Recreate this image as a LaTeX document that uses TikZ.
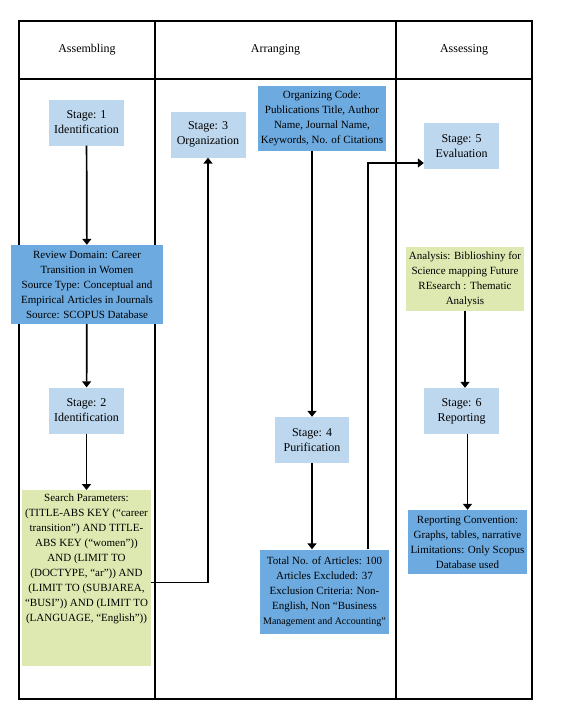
\documentclass[tikz,border=0pt]{standalone}
\usepackage{fontspec}
\setmainfont{Liberation Serif}
\usetikzlibrary{arrows.meta}

\definecolor{stageblue}{RGB}{189,215,238}
\definecolor{boxblue}{RGB}{108,170,224}
\definecolor{boxgreen}{RGB}{222,233,178}

\begin{document}
\begin{tikzpicture}[x=1pt,y=-1pt,
    stagebox/.style={fill=stageblue,align=center,minimum width=75pt,minimum height=46pt,
      inner sep=2pt,font=\fontsize{12}{15}\selectfont},
    infobox/.style={fill=boxblue,align=center,inner sep=3pt,font=\fontsize{11}{15}\selectfont},
    greenbox/.style={infobox,fill=boxgreen},
    lane/.style={line width=2pt},
    arr/.style={line width=1.7pt,-{Triangle[width=9pt,length=6pt]}}]

  \useasboundingbox (0,0) rectangle (568,712);

  % lanes
  \draw[lane] (19,21) rectangle (532,699);
  \draw[lane] (19,79) -- (532,79);
  \draw[lane] (155,21) -- (155,699);
  \draw[lane] (396,21) -- (396,699);

  \begin{scope}[every node/.style={font=\fontsize{12}{15}\selectfont}]
    \node (hassem) at (87,50)    {Assembling};
    \node (harran) at (275.5,50) {Arranging};
    \node (hasses) at (464,50)   {Assessing};
  \end{scope}

  % assembling
  \node[stagebox] (s1) at (86.5,122.5) {Stage: 1\\Identification};
  \node[infobox,minimum width=152pt,minimum height=79pt] (review) at (87,284.5)
    {Review Domain: Career\\Transition in Women\\Source Type: Conceptual and\\
     Empirical Articles in Journals\\Source: SCOPUS Database};
  \node[stagebox] (s2) at (86.5,410.5) {Stage: 2\\Identification};
  \node[greenbox,anchor=north,minimum width=123pt,inner ysep=4pt,text depth=40pt] (search) at (86.5,490)
    {Search Parameters:\\(TITLE-ABS KEY (“career\\transition”) AND TITLE-\\
     ABS KEY (“women”))\\AND (LIMIT TO\\(DOCTYPE, “ar”)) AND\\
     (LIMIT TO (SUBJAREA,\\“BUSI”)) AND (LIMIT TO\\(LANGUAGE, “English”))};

  % arranging
  \node[stagebox] (s3) at (208,134.5) {Stage: 3\\Organization};
  \node[infobox,minimum width=122pt,minimum height=65pt] (org) at (322,118.5)
    {Organizing Code:\\Publications Title, Author\\Name, Journal Name,\\Keywords, No. of Citations};
  \node[stagebox,minimum width=74pt] (s4) at (312,440) {Stage: 4\\Purification};
  \node[infobox,minimum width=125pt,minimum height=84pt] (total) at (324.5,591.5)
    {Total No. of Articles: 100\\Articles Excluded: 37\\Exclusion Criteria: Non-\\
     English, Non “Business\\{\fontsize{10}{15}\selectfont Management and Accounting”}};

  % assessing
  \node[stagebox] (s5) at (461.5,146) {Stage: 5\\Evaluation};
  \node[greenbox,minimum width=112pt,minimum height=64pt] (analysis) at (465,279)
    {Analysis: Biblioshiny for\\Science mapping Future\\REsearch : Thematic\\Analysis};
  \node[stagebox] (s6) at (461.5,411) {Stage: 6\\Reporting};
  \node[infobox,minimum width=111pt,minimum height=64pt] (report) at (467.5,542)
    {Reporting Convention:\\Graphs, tables, narrative\\Limitations: Only Scopus\\Database used};

  % flow
  \draw[arr] (s1) -- (review);
  \draw[arr] (review) -- (s2);
  \draw[arr] (s2) -- (search);
  \draw[arr] ([yshift=-4.5pt]search.east) -| (s3.south);
  \draw[arr] (org.south -| s4.north) -- (s4.north);
  \draw[arr] (s4) -- (s4 |- total.north);
  \draw[arr] ([xshift=43.5pt]total.north) |- ([yshift=-17pt]s5.west);
  \draw[arr] (analysis.south) -- (analysis.south |- s6.north);
  \draw[arr] (s6.south -| report.north) -- (report.north);

\end{tikzpicture}
\end{document}
